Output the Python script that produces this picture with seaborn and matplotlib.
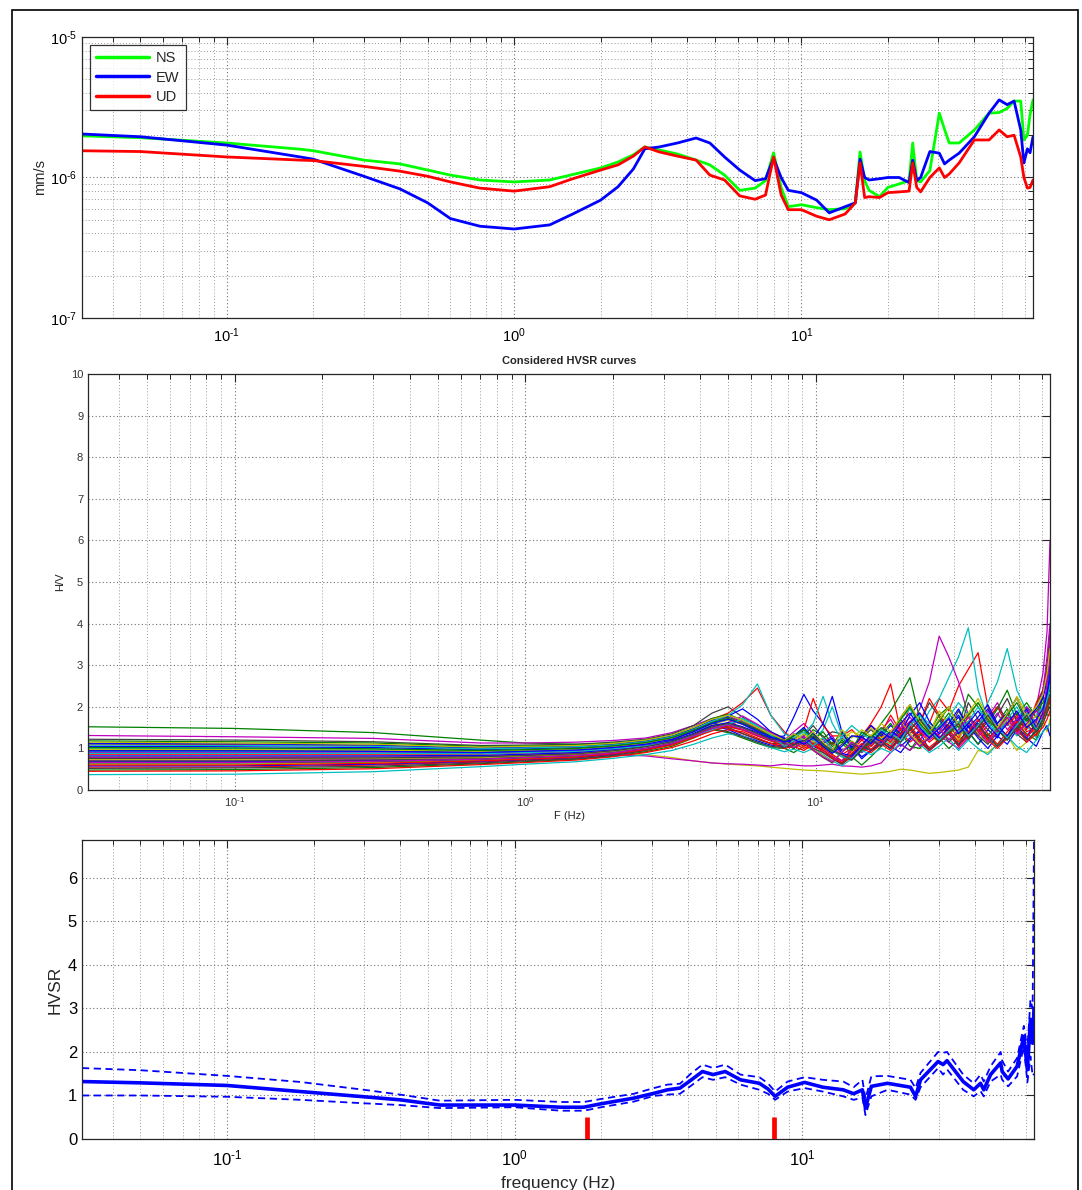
import numpy as np
import pandas as pd
import matplotlib
matplotlib.use("Agg")
import matplotlib.pyplot as plt
import seaborn as sns
from matplotlib.patches import Rectangle
from matplotlib.ticker import LogLocator, NullFormatter, FuncFormatter, FixedLocator

# ---------------------------------------------------------------- data
# Spectral amplitude of the three components (units of 1e-6 mm/s)
PSD_FREQ = [0.0313, 0.05, 0.1, 0.18, 0.2, 0.3, 0.4, 0.5, 0.6, 0.76, 1.0, 1.33, 1.6, 2.0, 2.3, 2.6,
            2.85, 3.2, 3.7, 4.3, 4.8, 5.4, 6.1, 6.9, 7.5, 8.0, 8.5, 9.0, 10.0, 11.3, 12.5, 14.2,
            15.4, 16.0, 16.6, 17.2, 18.7, 20.0, 21.9, 23.7, 24.4, 25.2, 26.0, 28.0, 30.2, 31.5,
            32.7, 35.4, 40.0, 45.0, 48.8, 52.0, 55.0, 58.0, 59.5, 61.2, 62.5, 64.0]
NS_PSD = [1.98, 1.92, 1.76, 1.59, 1.55, 1.33, 1.25, 1.13, 1.04, 0.96, 0.93, 0.96, 1.05, 1.17, 1.29, 1.45,
          1.65, 1.57, 1.47, 1.33, 1.23, 1.04, 0.81, 0.84, 0.95, 1.50, 0.85, 0.62, 0.64, 0.61, 0.59, 0.60,
          0.66, 1.52, 0.95, 0.81, 0.73, 0.85, 0.90, 0.95, 1.76, 0.95, 0.93, 1.12, 2.87, 2.20,
          1.76, 1.76, 2.18, 2.87, 2.90, 3.10, 3.50, 3.50, 1.85, 2.00, 2.80, 3.57]
EW_PSD = [2.04, 1.95, 1.70, 1.40, 1.35, 1.02, 0.83, 0.66, 0.51, 0.45, 0.43, 0.46, 0.55, 0.69, 0.86, 1.15,
          1.60, 1.65, 1.76, 1.91, 1.76, 1.40, 1.13, 0.95, 0.98, 1.37, 1.00, 0.81, 0.78, 0.69, 0.56, 0.62,
          0.66, 1.35, 1.00, 0.96, 0.98, 1.00, 1.00, 0.92, 1.33, 0.95, 1.00, 1.53, 1.49, 1.25,
          1.33, 1.49, 1.95, 2.87, 3.57, 3.30, 3.50, 2.18, 1.27, 1.60, 1.50, 1.95]
UD_PSD = [1.55, 1.53, 1.40, 1.33, 1.32, 1.20, 1.11, 1.02, 0.93, 0.84, 0.80, 0.86, 0.98, 1.13, 1.23, 1.42,
          1.65, 1.52, 1.42, 1.33, 1.04, 0.96, 0.74, 0.70, 0.75, 1.40, 0.75, 0.59, 0.59, 0.53, 0.50, 0.55,
          0.66, 1.27, 0.72, 0.73, 0.72, 0.78, 0.79, 0.80, 1.27, 0.85, 0.79, 1.00, 1.17, 1.00,
          1.06, 1.27, 1.85, 1.85, 2.18, 1.95, 2.00, 1.40, 1.00, 0.84, 0.85, 0.96]
COMPONENTS = ["NS", "EW", "UD"]
COMPONENT_COLORS = ["#00ff00", "#0000ff", "#ff0000"]

# H/V ratio of every selected time window
HV_FREQ = [0.0313, 0.1, 0.3, 0.7, 1.0, 1.5, 2.0,
           2.6, 3.2, 3.8, 4.4, 5.0, 5.6, 6.3, 7.0,
           7.8, 8.4, 9.1, 9.8, 10.6, 11.4, 12.3, 13.3, 14.4, 15.5, 16.8, 18.1, 19.6, 21.1, 22.8,
           24.6, 26.6, 28.7, 31.0, 33.5, 36.2, 39.1, 42.2, 45.6, 49.2, 53.2, 57.4, 60.5, 62.5, 64.0]
HV_WINDOWS = [
    [1.05, 1.04, 1.02, 0.97, 0.99, 1.02, 1.07,
     1.15, 1.28, 1.45, 1.62, 1.70, 1.58, 1.40, 1.30,
     1.18, 1.35, 1.22, 1.05, 1.25, 1.10, 1.25, 1.05, 0.80, 0.95, 1.10, 1.30, 1.05, 1.25, 1.40,
     0.95, 1.20, 1.55, 1.80, 1.40, 1.10, 1.45, 1.25, 1.70, 1.40, 1.25, 1.65, 1.90, 2.10, 2.60],
    [1.52, 1.48, 1.38, 1.20, 1.13, 1.10, 1.12,
     1.20, 1.30, 1.42, 1.55, 1.60, 1.50, 1.35, 1.25,
     1.10, 1.00, 1.20, 1.45, 1.30, 1.05, 1.15, 0.85, 0.95, 1.10, 1.35, 1.15, 1.40, 1.05, 1.00,
     1.30, 1.55, 1.85, 1.50, 1.20, 1.55, 1.30, 1.60, 1.95, 1.45, 1.70, 1.40, 2.30, 1.80, 1.80],
    [0.55, 0.55, 0.60, 0.67, 0.72, 0.77, 0.85,
     0.95, 1.10, 1.32, 1.55, 1.48, 1.35, 1.22, 1.12,
     1.05, 1.20, 1.10, 1.25, 1.00, 1.15, 0.85, 1.00, 1.30, 1.60, 2.00, 2.55, 1.40, 1.15, 1.35,
     1.60, 2.20, 1.90, 2.50, 2.90, 3.30, 2.00, 1.55, 1.30, 1.75, 1.40, 1.50, 1.90, 2.40, 2.40],
    [1.00, 0.99, 0.98, 0.94, 0.96, 0.99, 1.05,
     1.12, 1.22, 1.40, 1.60, 1.75, 1.65, 1.45, 1.25,
     1.12, 1.30, 1.50, 1.20, 1.45, 2.00, 1.30, 1.00, 0.90, 1.05, 1.25, 1.10, 1.35, 1.60, 1.45,
     1.90, 2.20, 2.70, 3.20, 3.90, 2.40, 1.70, 1.35, 1.60, 1.30, 1.55, 1.25, 1.80, 2.20, 2.90],
    [1.31, 1.28, 1.24, 1.13, 1.13, 1.15, 1.19,
     1.25, 1.38, 1.55, 1.72, 1.80, 1.62, 1.48, 1.35,
     1.20, 1.40, 1.60, 1.35, 1.15, 1.30, 0.95, 1.10, 0.90, 1.10, 1.45, 1.70, 1.30, 1.50, 1.95,
     2.60, 3.70, 3.20, 2.60, 1.80, 1.40, 1.75, 2.10, 1.60, 1.85, 1.50, 2.00, 2.80, 3.80, 6.00],
    [0.80, 0.80, 0.81, 0.82, 0.85, 0.88, 0.90,
     0.85, 0.78, 0.70, 0.65, 0.62, 0.60, 0.58, 0.55,
     0.52, 0.50, 0.48, 0.47, 0.46, 0.44, 0.42, 0.40, 0.38, 0.40, 0.42, 0.45, 0.50, 0.48, 0.44,
     0.40, 0.42, 0.45, 0.48, 0.55, 0.95, 0.90, 1.10, 1.30, 0.95, 1.15, 1.40, 1.70, 1.40, 1.70],
    [1.22, 1.20, 1.16, 1.07, 1.08, 1.10, 1.15,
     1.22, 1.35, 1.55, 1.85, 2.00, 1.75, 1.55, 1.40,
     1.25, 1.15, 1.30, 1.55, 1.25, 1.40, 1.35, 1.10, 1.00, 1.15, 1.40, 1.25, 1.70, 1.35, 1.60,
     2.10, 1.75, 1.45, 1.90, 1.50, 1.35, 1.65, 2.00, 1.70, 1.35, 2.00, 1.75, 2.30, 2.70, 3.50],
    [0.68, 0.68, 0.71, 0.75, 0.79, 0.83, 0.90,
     1.00, 1.12, 1.30, 1.50, 1.60, 1.50, 1.35, 1.25,
     1.30, 1.75, 2.30, 1.90, 1.60, 1.20, 0.95, 1.05, 0.75, 0.95, 1.20, 1.05, 0.90, 1.20, 1.45,
     1.25, 1.70, 1.35, 1.10, 1.30, 1.60, 1.25, 1.45, 1.85, 1.50, 1.30, 1.60, 1.85, 2.00, 2.20],
    [0.48, 0.49, 0.54, 0.63, 0.68, 0.74, 0.81,
     0.92, 1.05, 1.25, 1.45, 1.38, 1.25, 1.12, 1.02,
     1.00, 0.90, 1.05, 1.15, 1.00, 0.85, 0.70, 0.80, 0.60, 0.80, 1.05, 1.30, 1.10, 0.95, 1.30,
     1.55, 1.25, 1.00, 1.20, 1.40, 1.10, 1.35, 1.05, 1.25, 1.60, 1.35, 1.20, 1.60, 1.90, 2.00],
    [1.10, 1.09, 1.06, 1.00, 1.02, 1.04, 1.09,
     1.18, 1.30, 1.50, 1.70, 1.85, 2.10, 2.45, 1.80,
     1.40, 1.20, 1.45, 2.20, 1.55, 1.30, 1.30, 1.45, 1.20, 1.55, 1.35, 1.80, 1.40, 2.00, 1.60,
     2.20, 1.80, 1.50, 1.60, 1.85, 1.40, 1.70, 2.00, 1.55, 1.80, 1.45, 2.10, 2.40, 2.90, 3.20],
    [0.92, 0.92, 0.91, 0.89, 0.92, 0.96, 1.01,
     1.08, 1.18, 1.30, 1.45, 1.58, 1.72, 1.55, 1.35,
     1.15, 1.10, 1.35, 1.60, 2.25, 1.60, 1.20, 0.95, 1.10, 1.30, 1.15, 1.40, 1.25, 1.55, 1.80,
     1.60, 1.45, 1.75, 2.10, 1.80, 1.50, 2.10, 2.60, 3.40, 2.40, 1.90, 1.60, 1.95, 2.20, 2.40],
    [0.72, 0.72, 0.74, 0.77, 0.80, 0.82, 0.85,
     0.82, 0.75, 0.70, 0.65, 0.63, 0.62, 0.60, 0.58,
     0.62, 0.60, 0.58, 0.58, 0.60, 0.62, 0.58, 0.57, 0.55, 0.58, 0.65, 0.90, 1.10, 0.95, 1.20,
     1.50, 1.30, 1.15, 1.00, 1.25, 1.45, 1.15, 1.35, 1.70, 1.40, 1.25, 1.55, 1.90, 2.10, 2.10],
    [0.62, 0.62, 0.66, 0.71, 0.75, 0.80, 0.88,
     0.98, 1.10, 1.28, 1.45, 1.52, 1.45, 1.32, 1.20,
     1.10, 1.15, 1.05, 0.95, 1.10, 0.85, 0.70, 0.90, 1.10, 1.25, 1.05, 1.15, 1.40, 1.60, 1.85,
     1.30, 1.15, 1.45, 1.20, 1.65, 1.35, 1.10, 1.45, 1.25, 1.55, 1.85, 1.40, 2.00, 2.30, 2.50],
    [0.95, 0.95, 0.94, 0.91, 0.94, 0.97, 1.03,
     1.12, 1.25, 1.42, 1.65, 1.75, 1.62, 1.45, 1.30,
     1.18, 1.25, 1.10, 1.30, 1.05, 0.90, 1.10, 1.30, 1.25, 1.45, 1.20, 1.35, 1.75, 2.05, 1.60,
     1.30, 1.50, 1.75, 1.35, 2.10, 1.70, 1.45, 1.80, 2.20, 1.65, 1.50, 2.00, 2.40, 3.00, 3.80],
    [0.58, 0.58, 0.62, 0.69, 0.73, 0.78, 0.86,
     0.98, 1.12, 1.35, 1.55, 1.45, 1.30, 1.18, 1.08,
     1.05, 1.10, 1.25, 1.05, 0.95, 0.80, 0.65, 0.85, 1.05, 0.95, 1.15, 1.00, 1.25, 1.50, 1.20,
     0.95, 1.15, 1.35, 1.05, 1.55, 1.25, 1.00, 1.30, 1.10, 1.45, 1.25, 1.05, 1.40, 1.55, 1.30],
    [1.18, 1.16, 1.13, 1.05, 1.06, 1.08, 1.13,
     1.20, 1.32, 1.50, 1.72, 1.82, 1.68, 1.50, 1.35,
     1.20, 1.30, 1.45, 1.20, 1.40, 1.10, 1.40, 1.15, 0.95, 1.25, 1.60, 1.90, 2.30, 2.70, 1.70,
     1.40, 1.80, 2.00, 1.55, 2.30, 2.00, 1.60, 1.95, 2.40, 1.80, 2.10, 1.75, 2.30, 2.60, 2.90],
    [0.86, 0.86, 0.86, 0.86, 0.89, 0.92, 0.98,
     1.05, 1.15, 1.28, 1.42, 1.55, 1.68, 1.50, 1.30,
     1.12, 1.20, 1.05, 1.20, 1.00, 0.85, 0.70, 0.95, 1.20, 1.05, 1.30, 1.15, 1.45, 1.65, 1.40,
     1.15, 1.35, 1.55, 1.25, 1.80, 1.45, 1.20, 1.50, 1.85, 1.40, 1.60, 1.30, 1.80, 2.00, 2.20],
    [0.37, 0.38, 0.44, 0.56, 0.62, 0.68, 0.76,
     0.85, 0.95, 1.10, 1.25, 1.35, 1.30, 1.15, 1.02,
     0.92, 0.98, 0.90, 1.00, 0.85, 0.70, 0.58, 0.75, 0.95, 0.85, 1.00, 0.90, 1.15, 1.35, 1.10,
     0.90, 1.05, 1.25, 0.95, 1.20, 1.00, 0.85, 1.10, 1.30, 1.05, 0.90, 1.20, 1.40, 1.50, 1.60],
    [0.78, 0.78, 0.79, 0.81, 0.84, 0.88, 0.95,
     1.05, 1.18, 1.35, 1.50, 1.58, 1.50, 1.35, 1.22,
     1.10, 1.15, 1.30, 1.10, 0.95, 0.80, 0.70, 1.00, 1.25, 1.10, 1.35, 1.20, 1.50, 1.75, 1.45,
     1.20, 1.40, 1.70, 1.35, 1.60, 1.30, 1.55, 1.85, 1.45, 1.70, 2.00, 1.60, 2.40, 3.20, 4.00],
    [0.98, 0.97, 0.96, 0.93, 0.95, 0.98, 1.04,
     1.12, 1.24, 1.40, 1.58, 1.68, 1.58, 1.42, 1.28,
     1.15, 1.20, 1.35, 1.15, 1.25, 0.95, 1.20, 1.40, 1.30, 1.50, 1.25, 1.40, 1.70, 1.95, 1.55,
     1.35, 1.90, 1.60, 1.30, 1.75, 2.10, 1.70, 1.45, 1.80, 2.25, 1.85, 1.55, 1.95, 2.30, 2.70],
    [0.70, 0.70, 0.72, 0.76, 0.80, 0.85, 0.91,
     1.05, 1.20, 1.42, 1.62, 1.50, 1.36, 1.22, 1.12,
     1.12, 1.00, 1.15, 0.95, 0.78, 0.65, 0.90, 1.15, 1.00, 1.20, 1.05, 1.35, 1.60, 1.30, 1.05,
     1.25, 1.50, 1.15, 1.40, 1.65, 1.30, 1.10, 1.40, 1.70, 1.35, 1.15, 1.45, 1.70, 2.00, 2.30],
    [1.12, 1.11, 1.08, 1.01, 1.03, 1.05, 1.10,
     1.18, 1.30, 1.48, 1.68, 1.78, 1.95, 1.70, 1.40,
     1.22, 1.30, 1.50, 1.25, 1.60, 2.25, 1.40, 1.00, 1.30, 1.55, 1.30, 1.55, 1.35, 1.80, 2.10,
     1.65, 1.35, 1.60, 1.95, 1.50, 1.75, 2.05, 1.60, 1.85, 2.20, 1.70, 1.95, 2.20, 2.60, 3.00],
    [0.65, 0.65, 0.68, 0.73, 0.77, 0.82, 0.89,
     1.00, 1.12, 1.30, 1.48, 1.55, 1.45, 1.30, 1.18,
     1.15, 1.00, 1.20, 1.35, 1.05, 0.95, 0.80, 0.72, 0.95, 1.15, 1.35, 1.60, 1.25, 1.45, 1.70,
     1.40, 1.15, 1.35, 1.55, 1.25, 1.50, 1.80, 1.45, 1.20, 1.50, 1.75, 1.40, 1.65, 1.95, 2.10],
    [0.45, 0.46, 0.51, 0.61, 0.66, 0.72, 0.80,
     0.90, 1.02, 1.18, 1.35, 1.45, 1.40, 1.25, 1.12,
     1.00, 1.05, 0.95, 1.10, 0.90, 0.75, 0.62, 0.80, 1.00, 0.90, 1.10, 0.95, 1.25, 1.45, 1.15,
     0.95, 1.15, 1.35, 1.05, 1.30, 1.55, 1.20, 1.00, 1.25, 1.50, 1.15, 1.35, 1.50, 1.70, 1.90],
    [1.08, 1.07, 1.05, 0.99, 1.01, 1.04, 1.08,
     1.16, 1.28, 1.45, 1.65, 1.80, 2.05, 2.55, 1.80,
     1.35, 1.25, 1.40, 1.20, 1.10, 0.90, 1.30, 1.55, 1.35, 1.20, 1.45, 1.30, 1.70, 1.95, 1.55,
     1.30, 1.50, 1.75, 1.40, 1.65, 2.00, 1.60, 1.35, 1.70, 2.00, 1.55, 1.80, 2.00, 2.30, 2.60],
    [0.90, 0.90, 0.89, 0.88, 0.91, 0.94, 1.00,
     1.08, 1.18, 1.32, 1.48, 1.62, 1.78, 1.58, 1.38,
     1.20, 1.10, 1.28, 1.05, 1.22, 1.00, 0.85, 0.78, 1.05, 1.28, 1.10, 1.40, 1.30, 1.65, 1.85,
     1.45, 1.20, 1.45, 1.65, 1.30, 1.55, 1.90, 1.50, 1.25, 1.60, 1.90, 1.50, 1.80, 2.50, 3.20],
    [0.74, 0.74, 0.76, 0.78, 0.82, 0.86, 0.93,
     1.04, 1.16, 1.34, 1.52, 1.60, 1.50, 1.36, 1.22,
     1.18, 1.05, 1.20, 0.98, 0.82, 0.68, 0.92, 1.18, 1.02, 1.25, 1.10, 1.40, 1.65, 1.35, 1.10,
     1.30, 1.50, 1.20, 1.45, 1.75, 1.40, 1.15, 1.45, 1.70, 1.35, 1.55, 1.80, 1.60, 2.05, 2.30],
    [0.52, 0.53, 0.57, 0.65, 0.70, 0.75, 0.83,
     0.95, 1.10, 1.30, 1.48, 1.40, 1.28, 1.15, 1.05,
     1.02, 1.08, 1.20, 1.00, 0.90, 0.76, 0.62, 0.85, 1.05, 0.95, 1.15, 1.00, 1.30, 1.50, 1.20,
     0.98, 1.18, 1.40, 1.10, 1.35, 1.60, 1.25, 1.05, 1.30, 1.55, 1.20, 1.40, 1.60, 1.85, 2.00],
    [0.82, 0.82, 0.82, 0.83, 0.86, 0.90, 0.97,
     1.06, 1.18, 1.36, 1.55, 1.62, 1.52, 1.38, 1.25,
     1.25, 1.10, 1.20, 1.38, 1.12, 1.25, 0.88, 0.82, 1.08, 1.32, 1.15, 1.42, 1.25, 1.62, 1.85,
     1.50, 1.25, 1.50, 1.75, 1.35, 1.65, 1.95, 1.55, 1.30, 1.65, 1.95, 1.50, 1.85, 2.30, 2.80],
    [1.02, 1.01, 0.99, 0.95, 0.97, 1.00, 1.06,
     1.14, 1.26, 1.44, 1.62, 1.72, 1.60, 1.44, 1.30,
     1.16, 1.30, 1.45, 1.25, 1.10, 0.92, 1.20, 0.95, 1.40, 1.25, 1.50, 1.35, 1.70, 2.00, 1.60,
     1.35, 1.65, 2.00, 1.55, 1.80, 2.10, 1.70, 1.45, 1.80, 2.10, 1.65, 1.90, 2.10, 2.30, 2.40],
    [0.60, 0.60, 0.64, 0.70, 0.74, 0.79, 0.87,
     0.97, 1.08, 1.26, 1.44, 1.52, 1.44, 1.30, 1.18,
     1.06, 1.12, 1.00, 1.12, 0.95, 0.78, 0.66, 0.88, 1.12, 0.98, 1.20, 1.05, 1.35, 1.55, 1.25,
     1.02, 1.22, 1.45, 1.15, 1.40, 1.70, 1.35, 1.10, 1.40, 1.65, 1.30, 1.50, 1.70, 1.95, 2.20],
    [0.88, 0.88, 0.88, 0.87, 0.90, 0.93, 0.99,
     1.06, 1.16, 1.30, 1.45, 1.58, 1.70, 1.52, 1.32,
     1.05, 1.18, 1.22, 1.06, 1.25, 0.98, 0.80, 0.75, 1.00, 1.25, 1.08, 1.36, 1.20, 1.55, 1.80,
     1.45, 1.20, 1.42, 1.65, 1.30, 1.55, 1.85, 1.50, 1.25, 1.55, 1.85, 1.45, 1.75, 2.20, 2.50],
    [0.66, 0.66, 0.69, 0.74, 0.78, 0.83, 0.89,
     1.00, 1.12, 1.30, 1.48, 1.56, 1.46, 1.32, 1.20,
     1.15, 1.02, 1.15, 0.96, 0.80, 0.68, 0.90, 1.15, 1.00, 1.22, 1.08, 1.38, 1.62, 1.30, 1.05,
     1.28, 1.50, 1.20, 1.45, 1.75, 1.40, 1.15, 1.45, 1.75, 1.35, 1.60, 1.90, 1.70, 2.60, 3.60],
    [1.15, 1.13, 1.10, 1.03, 1.05, 1.07, 1.12,
     1.20, 1.32, 1.50, 1.70, 1.80, 1.68, 1.50, 1.35,
     1.20, 1.35, 1.20, 1.40, 1.15, 0.95, 1.45, 1.25, 1.45, 1.30, 1.60, 1.40, 1.75, 2.05, 1.65,
     1.40, 1.70, 2.00, 1.55, 1.85, 2.20, 1.75, 1.50, 1.85, 2.20, 1.75, 2.00, 2.30, 2.80, 3.40],
    [0.76, 0.76, 0.77, 0.80, 0.83, 0.87, 0.94,
     1.04, 1.16, 1.34, 1.52, 1.60, 1.50, 1.36, 1.22,
     1.20, 1.08, 1.18, 1.30, 1.10, 0.95, 0.85, 0.72, 0.98, 1.22, 1.05, 1.30, 1.15, 1.45, 1.70,
     1.40, 1.15, 1.38, 1.60, 1.25, 1.50, 1.80, 1.45, 1.20, 1.50, 1.80, 1.40, 1.70, 2.05, 2.30],
    [0.94, 0.94, 0.93, 0.90, 0.93, 0.96, 1.02,
     1.10, 1.22, 1.40, 1.60, 1.70, 1.58, 1.42, 1.28,
     1.15, 1.22, 1.10, 1.25, 1.05, 0.88, 1.05, 1.30, 1.28, 1.12, 1.40, 1.25, 1.60, 1.85, 1.50,
     1.25, 1.48, 1.72, 1.35, 1.60, 1.90, 1.55, 1.30, 1.60, 1.90, 1.50, 1.70, 1.95, 2.30, 2.70],
]
# MATLAB-style default colour order
WINDOW_COLOR_CYCLE = [(0, 0, 1), (0, 0.5, 0), (1, 0, 0), (0, 0.75, 0.75),
                      (0.75, 0, 0.75), (0.75, 0.75, 0), (0.25, 0.25, 0.25)]

# Average H/V with +/- one standard deviation
HVSR_FREQ = [0.0313, 0.05, 0.1, 0.18, 0.3, 0.4, 0.55, 1.0, 1.45, 1.74, 2.0, 2.6, 3.05, 3.4, 3.76,
             4.1, 4.5, 4.9, 5.4, 6.1, 7.1, 7.6, 8.05, 8.9, 10.2, 11.8, 13.9, 15.1, 16.2, 16.6,
             17.4, 19.8, 23.8, 24.8, 25.8, 29.7, 30.9, 31.9, 36.3, 39.5, 41.7, 42.8, 45.2, 49.0,
             49.6, 52.0, 55.9, 59.0, 60.7, 62.2, 63.3, 64.0]
HVSR_MEAN = [1.32, 1.29, 1.23, 1.09, 0.97, 0.90, 0.78, 0.78, 0.73, 0.73, 0.81, 0.94, 1.05, 1.13, 1.17,
             1.35, 1.55, 1.48, 1.55, 1.36, 1.28, 1.15, 0.98, 1.19, 1.30, 1.19, 1.13, 1.04, 1.13, 0.71,
             1.21, 1.28, 1.19, 0.98, 1.36, 1.78, 1.71, 1.80, 1.32, 1.13, 1.28, 1.13, 1.48, 1.75,
             1.55, 1.38, 1.67, 2.36, 1.59, 2.75, 2.20, 3.00]
HVSR_UPPER = [1.63, 1.58, 1.45, 1.31, 1.13, 1.02, 0.88, 0.90, 0.85, 0.85, 0.92, 1.04, 1.17, 1.25, 1.27,
              1.50, 1.71, 1.63, 1.71, 1.48, 1.42, 1.28, 1.09, 1.32, 1.42, 1.36, 1.32, 1.19, 1.36, 0.92,
              1.44, 1.45, 1.36, 1.17, 1.52, 2.00, 1.98, 2.00, 1.48, 1.28, 1.48, 1.32, 1.67, 2.00,
              1.80, 1.55, 1.86, 2.60, 2.05, 3.20, 3.00, 6.87]
HVSR_LOWER = [1.00, 1.00, 0.97, 0.90, 0.82, 0.78, 0.71, 0.73, 0.65, 0.65, 0.73, 0.86, 0.99, 1.02, 1.04,
              1.22, 1.42, 1.36, 1.42, 1.25, 1.13, 1.04, 0.90, 1.09, 1.17, 1.09, 0.98, 0.90, 0.95, 0.55,
              0.98, 1.13, 1.02, 0.90, 1.19, 1.63, 1.48, 1.60, 1.13, 0.98, 1.10, 0.98, 1.32, 1.48,
              1.36, 1.21, 1.44, 2.13, 1.30, 1.90, 1.45, 1.50]
# Frequencies flagged along the bottom axis
PEAK_FREQS = [1.79, 7.98]
PEAK_MARK_HEIGHT = 0.5

F_MIN, F_MAX = 0.0313, 64.0
DECADE_TICKS = [0.1, 1.0, 10.0]

# ---------------------------------------------------------------- style
sns.set_style("white")
plt.rcParams["font.family"] = ["Liberation Sans", "DejaVu Sans"]
plt.rcParams["mathtext.fontset"] = "custom"
plt.rcParams["mathtext.rm"] = "Liberation Sans"
plt.rcParams["mathtext.it"] = "Liberation Sans:italic"
plt.rcParams["mathtext.bf"] = "Liberation Sans:bold"
plt.rcParams["axes.unicode_minus"] = False

GRID_MAJOR = dict(linestyle=(0, (1, 2.2)), color="#707070", linewidth=0.8)
GRID_MINOR = dict(linestyle=(0, (1, 2.2)), color="#9a9a9a", linewidth=0.7)
AX_COLOR = "#262626"


def decade_label(value, pos):
    """Power-of-ten label with a plain hyphen for negative exponents."""
    exp = int(round(np.log10(value)))
    sup = r"\text{-}%d" % (-exp) if exp < 0 else "%d" % exp
    return r"$\mathdefault{10^{%s}}$" % sup


def style_axes(ax, label_size, label_color="black", log_y=False):
    for sp in ax.spines.values():
        sp.set_color(AX_COLOR)
        sp.set_linewidth(0.9)
        sp.set_visible(True)
    ax.set_xscale("log")
    ax.set_xlim(F_MIN, F_MAX)
    ax.xaxis.set_major_locator(FixedLocator(DECADE_TICKS))
    ax.xaxis.set_major_formatter(FuncFormatter(decade_label))
    ax.xaxis.set_minor_locator(LogLocator(base=10, subs=np.arange(2, 10), numticks=20))
    ax.xaxis.set_minor_formatter(NullFormatter())
    ax.tick_params(which="both", direction="in", top=True, right=True, color=AX_COLOR,
                   labelsize=label_size, labelcolor=label_color)
    ax.tick_params(which="major", length=6, width=0.8)
    ax.tick_params(which="minor", length=3.5, width=0.7)
    ax.grid(True, which="major", axis="both", **GRID_MAJOR)
    ax.grid(True, which="minor", axis="x", **GRID_MINOR)
    if log_y:
        ax.grid(True, which="minor", axis="y", **GRID_MINOR)
    ax.set_axisbelow(True)


fig = plt.figure(figsize=(10.82, 11.90), dpi=100)
W, H = 1082.0, 1190.0


def axes_px(left, top, right, bottom):
    return fig.add_axes([left / W, 1 - bottom / H, (right - left) / W, (bottom - top) / H])


# ---------------------------------------------------------------- top: spectra
ax1 = axes_px(82, 37, 1033, 318)
psd = pd.concat([
    pd.DataFrame({"freq": PSD_FREQ, "amp": np.array(vals) * 1e-6, "component": name})
    for name, vals in zip(COMPONENTS, [NS_PSD, EW_PSD, UD_PSD])
])
sns.lineplot(data=psd, x="freq", y="amp", hue="component", hue_order=COMPONENTS,
             palette=COMPONENT_COLORS, estimator=None, linewidth=2.0, ax=ax1)
ax1.set_yscale("log")
ax1.set_ylim(1e-7, 1e-5)
ax1.yaxis.set_major_locator(FixedLocator([1e-7, 1e-6, 1e-5]))
ax1.yaxis.set_major_formatter(FuncFormatter(decade_label))
ax1.yaxis.set_minor_locator(LogLocator(base=10, subs=np.arange(2, 10), numticks=20))
ax1.yaxis.set_minor_formatter(NullFormatter())
style_axes(ax1, 10.5, log_y=True)
ax1.tick_params(axis="x", pad=6)
ax1.set_xlabel("")
ax1.set_ylabel("mm/s", fontsize=10.5, labelpad=2)
leg = ax1.legend(loc="upper left", frameon=True, fancybox=False, fontsize=10.5,
                 handlelength=3.6, handletextpad=0.5, borderpad=0.45, labelspacing=0.35,
                 bbox_to_anchor=(0.008, 0.972), borderaxespad=0.0)
leg.get_frame().set_edgecolor("black")
leg.get_frame().set_linewidth(0.9)
for line in leg.get_lines():
    line.set_linewidth(2.5)

# ---------------------------------------------------------------- middle: window curves
ax2 = axes_px(88, 374, 1050, 790)
win_names = [f"w{i:02d}" for i in range(len(HV_WINDOWS))]
hv = pd.concat([
    pd.DataFrame({"freq": HV_FREQ, "hv": vals, "window": name})
    for name, vals in zip(win_names, HV_WINDOWS)
])
win_palette = [WINDOW_COLOR_CYCLE[i % len(WINDOW_COLOR_CYCLE)] for i in range(len(HV_WINDOWS))]
sns.lineplot(data=hv, x="freq", y="hv", hue="window", hue_order=win_names, palette=win_palette,
             estimator=None, linewidth=0.9, legend=False, ax=ax2)
ax2.set_ylim(0, 10)
ax2.yaxis.set_major_locator(FixedLocator(range(0, 11)))
style_axes(ax2, 8, label_color="#333333")
ax2.set_title("Considered HVSR curves", fontsize=8, fontweight="bold", pad=7)
ax2.set_xlabel("F (Hz)", fontsize=8, labelpad=2, color="#222222")
ax2.set_ylabel("H/V", fontsize=8, labelpad=4, color="#222222")

# ---------------------------------------------------------------- bottom: average HVSR
ax3 = axes_px(82, 840, 1034, 1139)
avg = pd.DataFrame({"freq": HVSR_FREQ, "mean": HVSR_MEAN,
                    "upper": HVSR_UPPER, "lower": HVSR_LOWER})
sns.lineplot(data=avg, x="freq", y="upper", color="#0000ff", linewidth=1.3,
             linestyle=(0, (4, 2.5)), estimator=None, ax=ax3)
sns.lineplot(data=avg, x="freq", y="lower", color="#0000ff", linewidth=1.3,
             linestyle=(0, (4, 2.5)), estimator=None, ax=ax3)
sns.lineplot(data=avg, x="freq", y="mean", color="#0000ff", linewidth=2.6,
             estimator=None, ax=ax3)
ax3.vlines(PEAK_FREQS, 0, PEAK_MARK_HEIGHT, color="#ff0000", linewidth=3.4, zorder=4)
ax3.set_ylim(0, max(HVSR_UPPER))
ax3.yaxis.set_major_locator(FixedLocator(range(0, 7)))
style_axes(ax3, 12)
ax3.tick_params(axis="x", pad=7)
ax3.set_xlabel("frequency (Hz)", fontsize=12.5, labelpad=5)
ax3.set_ylabel("HVSR", fontsize=12.5, labelpad=4)

# outer frame around the whole figure
fig.patches.append(Rectangle((12 / W, -0.01), (1078 - 12) / W, 1 - 10 / H + 0.01,
                             transform=fig.transFigure, fill=False,
                             edgecolor="black", linewidth=1.2))

fig.savefig("out.png", dpi=100)
